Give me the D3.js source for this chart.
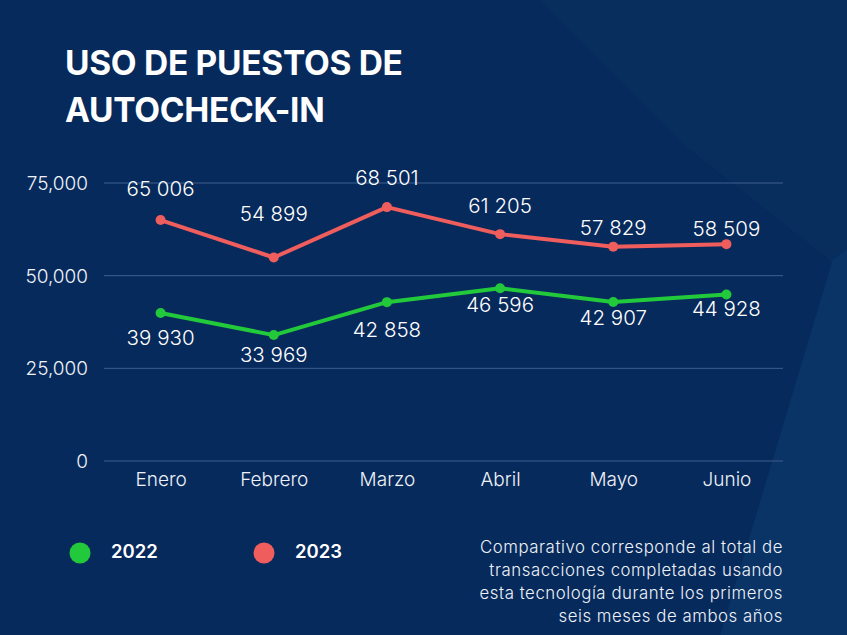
<!DOCTYPE html>
<html><head><meta charset="utf-8">
<script src="https://cdn.jsdelivr.net/npm/d3@7"></script>
<style>
html,body{margin:0;padding:0;background:#072a5c;}
svg{display:block;}
</style></head>
<body>
<script>
const months = ["Enero","Febrero","Marzo","Abril","Mayo","Junio"];
const values2022 = [39930, 33969, 42858, 46596, 42907, 44928];
const values2023 = [65006, 54899, 68501, 61205, 57829, 58509];
const yTicks = [0, 25000, 50000, 75000];
const seriesNames = ["2022", "2023"];
const titleLines = ["USO DE PUESTOS DE", "AUTOCHECK-IN"];
const noteLines = ["Comparativo corresponde al total de","transacciones completadas usando","esta tecnología durante los primeros","seis meses de ambos años"];

const W = 847, H = 635;
const svg = d3.select("body").append("svg").attr("width", W).attr("height", H);

// background
svg.append("rect").attr("width", W).attr("height", H).attr("fill", "#072a5c");
svg.append("path").attr("d", "M540,0 L847,0 L847,635 L720,635 L832,262 L690,150 Z").attr("fill", "#09305f").attr("opacity", 0.8);
svg.append("path").attr("d", "M830,262 L847,250 L847,635 L720,635 Z").attr("fill", "#0b3467").attr("opacity", 0.9);
svg.append("path").attr("d", "M0,0 L540,0 L690,150 L832,262 L720,635 L0,635 Z").attr("fill", "#072a5c");

const font = "Inter, 'Open Sans', sans-serif";

// title
svg.append("g").selectAll("text").data(titleLines).join("text")
  .attr("x", 65).attr("y", (d, i) => 75 + i * 47)
  .attr("fill", "#ffffff").attr("font-family", font).attr("font-weight", 700)
  .attr("font-size", 33.5).attr("letter-spacing", -0.3)
  .text(d => d);

const x = d3.scalePoint().domain(months).range([104, 783]).padding(0.5);
const y = d3.scaleLinear().domain([0, 75000]).range([461, 183]);

// grid
const grid = svg.append("g");
grid.selectAll("line").data(yTicks).join("line")
  .attr("x1", 104).attr("x2", 783)
  .attr("y1", d => y(d)).attr("y2", d => y(d))
  .attr("stroke", "#3e5e8e").attr("stroke-width", 1);

// y axis
const yAxis = svg.append("g").attr("transform", "translate(88,0)")
  .call(d3.axisLeft(y).tickValues(yTicks).tickSize(0).tickPadding(0).tickFormat(d3.format(",")));
yAxis.select(".domain").remove();
yAxis.selectAll("text").attr("fill", "#eef2f8").attr("font-family", font)
  .attr("font-size", 19).attr("font-weight", 300).attr("dy", "0.35em");

// x axis
const xAxis = svg.append("g").attr("transform", "translate(0,461)")
  .call(d3.axisBottom(x).tickSize(0).tickPadding(0));
xAxis.select(".domain").remove();
xAxis.selectAll("text").attr("fill", "#eef2f8").attr("font-family", font)
  .attr("font-size", 19).attr("font-weight", 300).attr("dy", "20").attr("y", 0).attr("dominant-baseline", "middle");

const series = [
  {name: seriesNames[0], values: values2022, color: "#22c93b", labelDy: [26, 21, 29, 18, 17, 16]},
  {name: seriesNames[1], values: values2023, color: "#ef5d5d", labelDy: [-30, -42, -28, -27, -17, -14]}
];

const line = d3.line().x((d, i) => x(months[i])).y(d => y(d));
const fmt = v => d3.format(",")(v).replace(",", " ");

series.forEach(s => {
  const g = svg.append("g");
  g.append("path").datum(s.values).attr("d", line)
    .attr("fill", "none").attr("stroke", s.color).attr("stroke-width", 4).attr("stroke-linejoin", "round");
  g.selectAll("circle").data(s.values).join("circle")
    .attr("cx", (d, i) => x(months[i])).attr("cy", d => y(d)).attr("r", 5).attr("fill", s.color);
  g.selectAll("text").data(s.values).join("text")
    .attr("x", (d, i) => x(months[i])).attr("y", (d, i) => y(d) + s.labelDy[i])
    .attr("text-anchor", "middle").attr("dominant-baseline", "middle")
    .attr("fill", "#ffffff").attr("font-family", font).attr("font-size", 20.5).attr("font-weight", 350)
    .text(d => fmt(d));
});

// legend
const legX = [80, 264];
series.forEach((s, i) => {
  svg.append("circle").attr("cx", legX[i]).attr("cy", 553).attr("r", 10.5).attr("fill", s.color);
  svg.append("text").attr("x", legX[i] + 31).attr("y", 553).attr("dominant-baseline", "middle")
    .attr("fill", "#ffffff").attr("font-family", font).attr("font-weight", 600).attr("font-size", 18.5)
    .text(s.name);
});

// note
svg.append("g").selectAll("text").data(noteLines).join("text")
  .attr("x", 783).attr("y", (d, i) => 548 + i * 23).attr("text-anchor", "end").attr("dominant-baseline", "middle")
  .attr("fill", "#eef2f8").attr("font-family", font).attr("font-size", 16.8).attr("font-weight", 300)
  .attr("letter-spacing", 0.55)
  .text(d => d);
</script>
</body></html>
